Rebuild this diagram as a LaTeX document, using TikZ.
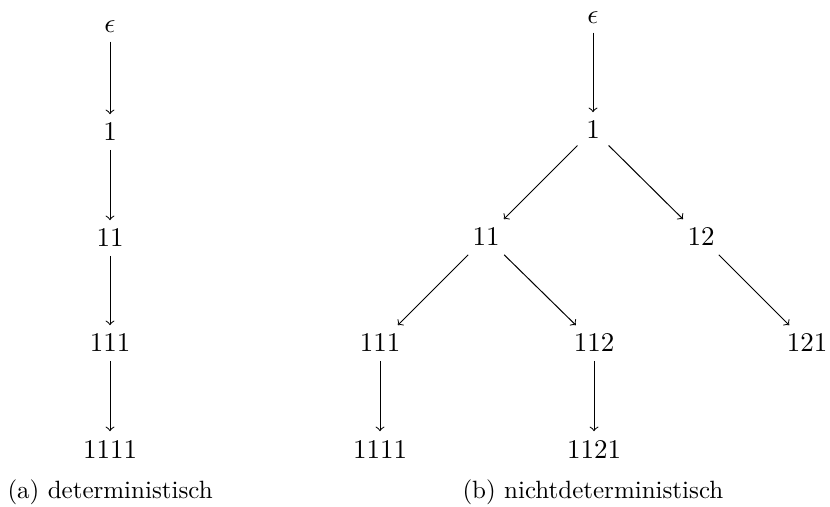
\documentclass[tikz,border=0pt]{standalone}
\begin{document}
\begin{tikzpicture}[x=0.4pt,y=-0.4pt,
  state/.style={inner sep=0.3333em,font=\fontsize{10.8}{13}\selectfont},
  edge/.style={->},
  caption/.style={anchor=base west,inner sep=0pt}]
\useasboundingbox (0,0) rectangle (830,506);

% (a) deterministic run: a single chain
\node[state] (a0) at (110,27)  {$\epsilon$};
\node[state] (a1) at (110,132) {1};
\node[state] (a2) at (110,238) {11};
\node[state] (a3) at (110,343) {111};
\node[state] (a4) at (110,449) {1111};
\draw[edge] (a0) -- (a1);
\draw[edge] (a1) -- (a2);
\draw[edge] (a2) -- (a3);
\draw[edge] (a3) -- (a4);

% (b) nondeterministic run: a branching tree
\node[state] (b0)    at (593,18)  {$\epsilon$};
\node[state] (b1)    at (593,130) {1};
\node[state] (b11)   at (486,237) {11};
\node[state] (b12)   at (701,237) {12};
\node[state] (b111)  at (380,343) {111};
\node[state] (b112)  at (594,343) {112};
\node[state] (b121)  at (807,343) {121};
\node[state] (b1111) at (380,449) {1111};
\node[state] (b1121) at (594,449) {1121};
\draw[edge] (b0) -- (b1);
\draw[edge] (b1) -- (b11);
\draw[edge] (b1) -- (b12);
\draw[edge] (b11) -- (b111);
\draw[edge] (b11) -- (b112);
\draw[edge] (b12) -- (b121);
\draw[edge] (b111) -- (b1111);
\draw[edge] (b112) -- (b1121);

% sub-captions
\node[caption] (capa) at (7,498)   {(a) deterministisch};
\node[caption] (capb) at (462,498) {(b) nichtdeterministisch};
\end{tikzpicture}
\end{document}
